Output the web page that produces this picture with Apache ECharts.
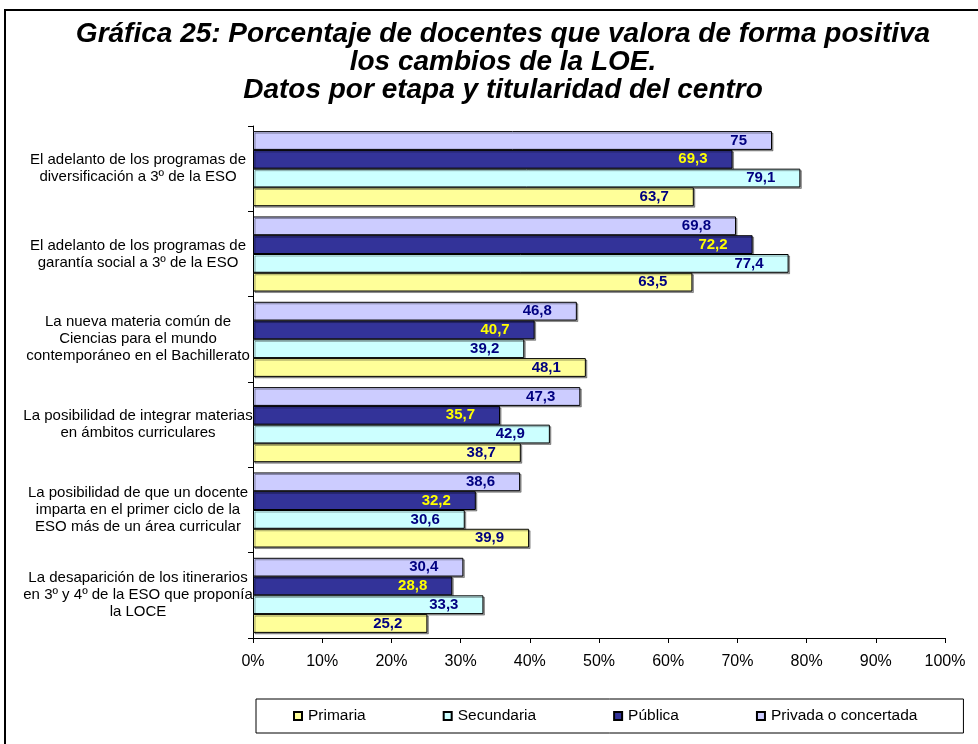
<!DOCTYPE html>
<html><head><meta charset="utf-8">
<script src="https://cdn.jsdelivr.net/npm/echarts@6/dist/echarts.min.js"></script>
<style>html,body{margin:0;padding:0;background:#fff}#c{width:978px;height:744px}</style>
</head><body><div id="c"></div>
<script>
const categories = [
  "El adelanto de los programas de\ndiversificación a 3º de la ESO",
  "El adelanto de los programas de\ngarantía social a 3º de la ESO",
  "La nueva materia común de\nCiencias para el mundo\ncontemporáneo en el Bachillerato",
  "La posibilidad de integrar materias\nen ámbitos curriculares",
  "La posibilidad de que un docente\nimparta en el primer ciclo de la\nESO más de un área curricular",
  "La desaparición de los itinerarios\nen 3º y 4º de la ESO que proponía\nla LOCE"
];
const primaria   = [63.7, 63.5, 48.1, 38.7, 39.9, 25.2];
const secundaria = [79.1, 77.4, 39.2, 42.9, 30.6, 33.3];
const publica    = [69.3, 72.2, 40.7, 35.7, 32.2, 28.8];
const privada    = [75, 69.8, 46.8, 47.3, 38.6, 30.4];
const xTicks = [0,10,20,30,40,50,60,70,80,90,100];

const FONT = "'Liberation Sans', Arial, sans-serif";
function mk(name, data, color, labelColor) {
  return {
    name, type: 'bar', data,
    itemStyle: { color, borderColor: '#000', borderWidth: 1,
      shadowColor: 'rgba(0,0,0,0.35)', shadowOffsetX: 1.5, shadowOffsetY: 1.5, shadowBlur: 0 },
    barGap: '0%', barCategoryGap: '12%',
    label: { show: true, position: 'insideRight', distance: 25,
      color: labelColor, fontWeight: 'bold', fontSize: 15, fontFamily: FONT,
      formatter: p => String(p.value).replace('.', ',') }
  };
}
const chart = echarts.init(document.getElementById('c'), null, {renderer: 'canvas'});
chart.setOption({
  animation: false,
  backgroundColor: '#fff',
  title: {
    text: 'Gráfica 25: Porcentaje de docentes que valora de forma positiva\nlos cambios de la LOE.\nDatos por etapa y titularidad del centro',
    left: 503, top: 20, textAlign: 'center', padding: 0,
    textStyle: { fontFamily: FONT, fontSize: 28, fontWeight: 'bold', fontStyle: 'italic', lineHeight: 28, color: '#000' }
  },
  graphic: [{ type: 'rect', shape: { x: 5, y: 10, width: 985, height: 745 }, style: { fill: null, stroke: '#000', lineWidth: 2 }, silent: true }],
  legend: {
    data: ['Primaria', 'Secundaria', 'Pública', 'Privada o concertada'],
    left: 256, top: 699, padding: [9, 46, 9, 37],
    borderColor: '#000', borderWidth: 1, itemGap: 77,
    itemWidth: 8, itemHeight: 8, icon: 'rect',
    textStyle: { fontFamily: FONT, fontSize: 15.5, color: '#000', padding: [0, 0, 0, 1] }
  },
  grid: { left: 253, right: 33, top: 126, bottom: 106 },
  xAxis: {
    type: 'value', min: 0, max: 100, interval: 10,
    axisLine: { show: true, lineStyle: { color: '#000' } },
    axisTick: { show: true, length: 5, lineStyle: { color: '#000' } },
    splitLine: { show: false },
    axisLabel: { fontFamily: FONT, fontSize: 16, color: '#000', margin: 16, formatter: '{value}%' }
  },
  yAxis: {
    type: 'category', data: categories, inverse: true,
    axisLine: { show: true, lineStyle: { color: '#000' } },
    axisTick: { show: true, length: 5, lineStyle: { color: '#000' } },
    axisLabel: { fontFamily: FONT, fontSize: 15, lineHeight: 17, color: '#000', align: 'center', margin: 115 }
  },
  series: [
    mk('Privada o concertada', privada, '#CCCCFF', '#000080'),
    mk('Pública', publica, '#333399', '#FFFF00'),
    mk('Secundaria', secundaria, '#CCFFFF', '#000080'),
    mk('Primaria', primaria, '#FFFF99', '#000080')
  ]
});
</script></body></html>
